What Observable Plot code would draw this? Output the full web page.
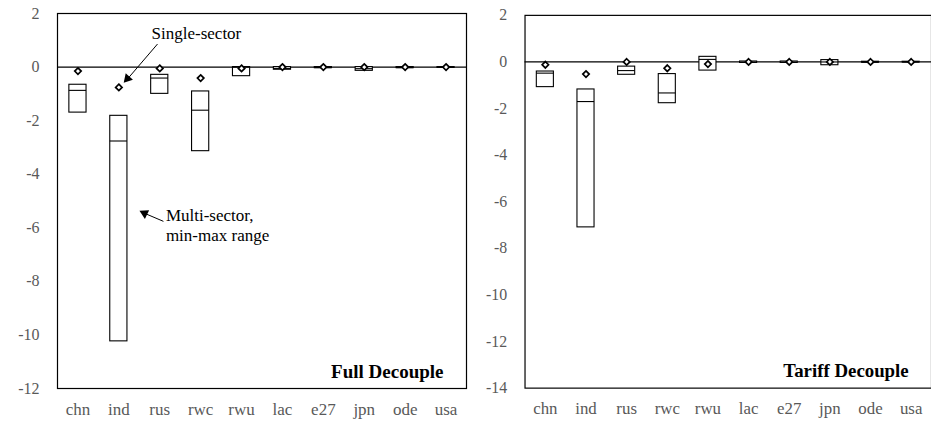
<!DOCTYPE html>
<html>
<head>
<meta charset="utf-8">
<script src="https://cdn.jsdelivr.net/npm/d3@7"></script>
<script src="https://cdn.jsdelivr.net/npm/@observablehq/plot@0.6"></script>
<style>
  html, body { margin: 0; padding: 0; background: white; overflow: hidden; width: 931px; height: 423px; }
  #wrap { position: relative; width: 931px; height: 423px; overflow: hidden; }
  #left { position: absolute; left: 0; top: 0; }
  #right { position: absolute; left: 470px; top: 0; }
</style>
</head>
<body>
<div id="wrap"><div id="left"></div><div id="right"></div></div>
<script>
const countries = ["chn","ind","rus","rwc","rwu","lac","e27","jpn","ode","usa"];

// Full Decouple (left)
const fullSingle = [-0.15, -0.76, -0.05, -0.41, -0.05, 0, 0, 0, 0, 0];
const fullMin    = [-1.70, -10.24, -1.00, -3.14, -0.34, -0.10, -0.04, -0.14, -0.04, -0.03];
const fullMid    = [-0.87, -2.76, -0.41, -1.61, -0.01, -0.05, -0.02, -0.06, -0.02, -0.01];
const fullMax    = [-0.66, -1.82, -0.29, -0.91, 0, 0, 0, 0, 0, 0];

// Tariff Decouple (right)
const tariffSingle = [-0.12, -0.52, 0.0, -0.27, -0.09, 0, 0, 0, 0, 0];
const tariffMin    = [-1.08, -7.10, -0.55, -1.77, -0.37, -0.04, -0.04, -0.14, -0.03, -0.02];
const tariffMid    = [-0.48, -1.70, -0.37, -1.33, 0.11, -0.01, -0.01, 0.0, -0.01, 0.0];
const tariffMax    = [-0.41, -1.18, -0.20, -0.52, 0.22, 0.02, 0.02, 0.08, 0.01, 0.01];

const leftTicks = [2, 0, -2, -4, -6, -8, -10, -12];
const rightTicks = [2, 0, -2, -4, -6, -8, -10, -12, -14];
const panelTitles = ["Full Decouple", "Tariff Decouple"];

// annotations (data units: x = country index, y = value)
const annoText = [
  {x: 1.80, y: 1.25, text: "Single-sector"},
  {x: 2.15, y: -5.55, text: "Multi-sector,"},
  {x: 2.15, y: -6.30, text: "min-max range"}
];
const annoLinks = [
  {x1: 1.945, y1: 0.86, x2: 1.22, y2: -0.43},
  {x1: 2.09, y1: -5.76, x2: 1.63, y2: -5.46}
];
const annoHeads = [
  {x: 1.21, y: -0.43, rotate: 222},
  {x: 1.627, y: -5.46, rotate: 296}
];

const halfW = 0.21;
const font = "'Liberation Serif', 'Times New Roman', serif";

function rows(single, mn, md, mx) {
  return countries.map((c, i) => ({i, c, single: single[i], min: mn[i], mid: md[i], max: mx[i]}));
}

function panel({data, ticks, domain, title, width, marginLeft, marginRight, marginTop, marginBottom, annotate}) {
  const marks = [
    Plot.frame({stroke: "black", strokeWidth: 1.2}),
    Plot.axisY({ticks, label: null, tickSize: 0, tickPadding: 18, fontSize: 16, tickFormat: d => String(d), fill: "#595959"}),
    Plot.axisX({ticks: d3.range(countries.length), label: null, tickFormat: i => countries[i], tickSize: 0, tickPadding: 14, fontSize: 17, fill: "#595959"}),
    Plot.ruleY([0], {stroke: "black", strokeWidth: 1.2}),
    Plot.rect(data, {x1: d => d.i - halfW, x2: d => d.i + halfW, y1: "min", y2: "max", fill: "white", stroke: "black", strokeWidth: 1.1}),
    Plot.ruleY(data, {x1: d => d.i - halfW, x2: d => d.i + halfW, y: "mid", stroke: "black", strokeWidth: 1.1}),
    Plot.dot(data, {x: "i", y: "single", symbol: "diamond2", r: 2.9, stroke: "black", strokeWidth: 1.7, fill: "white"}),
    Plot.text([title], {frameAnchor: "bottom-right", text: d => d, dx: -23, dy: -11, lineAnchor: "bottom", textAnchor: "end", fontWeight: "bold", fontSize: 19, fill: "black"})
  ];
  if (annotate) {
    marks.push(
      Plot.link(annoLinks, {x1: "x1", y1: "y1", x2: "x2", y2: "y2", stroke: "black", strokeWidth: 1}),
      Plot.dot(annoHeads, {x: "x", y: "y", rotate: "rotate", symbol: "triangle", r: 3.6, fill: "black", stroke: "none"}),
      Plot.text(annoText, {x: "x", y: "y", text: "text", textAnchor: "start", lineAnchor: "middle", fontSize: 17, fill: "black"})
    );
  }
  return Plot.plot({
    width, height: 423, marginLeft, marginRight, marginTop, marginBottom,
    x: {domain: [-0.5, countries.length - 0.5], label: null},
    y: {domain, label: null},
    style: {fontFamily: font, fontSize: "17px", background: "white", overflow: "visible"},
    marks
  });
}

document.getElementById("left").append(panel({
  data: rows(fullSingle, fullMin, fullMid, fullMax), ticks: leftTicks, domain: [-12, 2], title: panelTitles[0],
  width: 470, marginLeft: 57, marginRight: 4, marginTop: 13, marginBottom: 35, annotate: true
}));
document.getElementById("right").append(panel({
  data: rows(tariffSingle, tariffMin, tariffMid, tariffMax), ticks: rightTicks, domain: [-14, 2], title: panelTitles[1],
  width: 465, marginLeft: 55, marginRight: 0, marginTop: 15, marginBottom: 32, annotate: false
}));
</script>
</body>
</html>
